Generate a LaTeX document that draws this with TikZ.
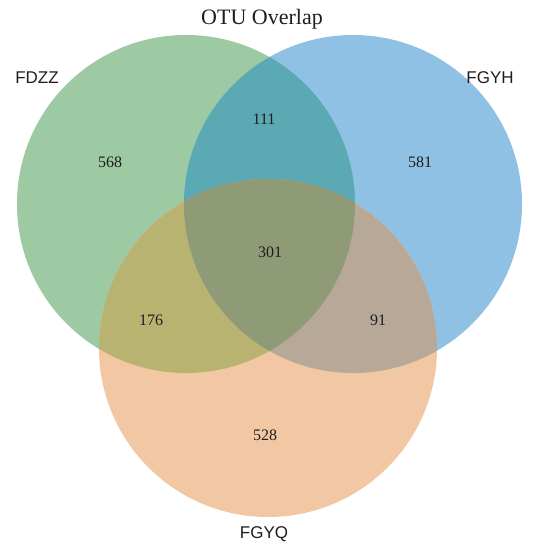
\documentclass[tikz,border=0pt]{standalone}
\usepackage{fontspec}
\setmainfont{Liberation Serif}
\newfontfamily\labelfont{Liberation Sans}
\definecolor{fdzzfill}{HTML}{9DC9A3}
\definecolor{fgyhfill}{HTML}{8FC1E5}
\definecolor{fgyqfill}{HTML}{F1C8A3}
\definecolor{zzyhfill}{HTML}{5BA9B2}
\definecolor{zzyqfill}{HTML}{B9B372}
\definecolor{yhyqfill}{HTML}{B7A898}
\definecolor{allfill}{HTML}{8F9A76}
\definecolor{inktext}{HTML}{1E1E1E}
\begin{document}
\begin{tikzpicture}[x=1pt,y=-1pt,
  count/.style={font=\fontsize{16}{16}\selectfont, text=inktext},
  setlabel/.style={font=\labelfont\fontsize{17}{17}\selectfont, text=inktext}]
\useasboundingbox (0,0) rectangle (532,545);
\coordinate (czz) at (186,204);
\coordinate (cyh) at (353,204);
\coordinate (cyq) at (268,348);

\fill[fdzzfill] (czz) circle (169pt);
\fill[fgyhfill] (cyh) circle (169pt);
\fill[fgyqfill] (cyq) circle (169pt);
\begin{scope}
\clip (czz) circle (169pt);
\fill[zzyhfill] (cyh) circle (169pt);
\fill[zzyqfill] (cyq) circle (169pt);
\end{scope}
\begin{scope}
\clip (cyh) circle (169pt);
\fill[yhyqfill] (cyq) circle (169pt);
\end{scope}
\begin{scope}
\clip (czz) circle (169pt);
\clip (cyh) circle (169pt);
\fill[allfill] (cyq) circle (169pt);
\end{scope}

\node[font=\fontsize{22}{22}\selectfont, text=inktext] (title) at (262,19) {OTU Overlap};
\node[setlabel] (fdzz) at (37,78) {FDZZ};
\node[setlabel] (fgyh) at (490,78) {FGYH};
\node[setlabel] (fgyq) at (264,534) {FGYQ};

\node[count] (n568) at (110,162) {568};
\node[count] (n581) at (420,162) {581};
\node[count] (n111) at (264,119) {111};
\node[count] (n301) at (270,252) {301};
\node[count] (n176) at (151,320) {176};
\node[count] (n91) at (378,320) {91};
\node[count] (n528) at (265,435) {528};
\end{tikzpicture}
\end{document}
